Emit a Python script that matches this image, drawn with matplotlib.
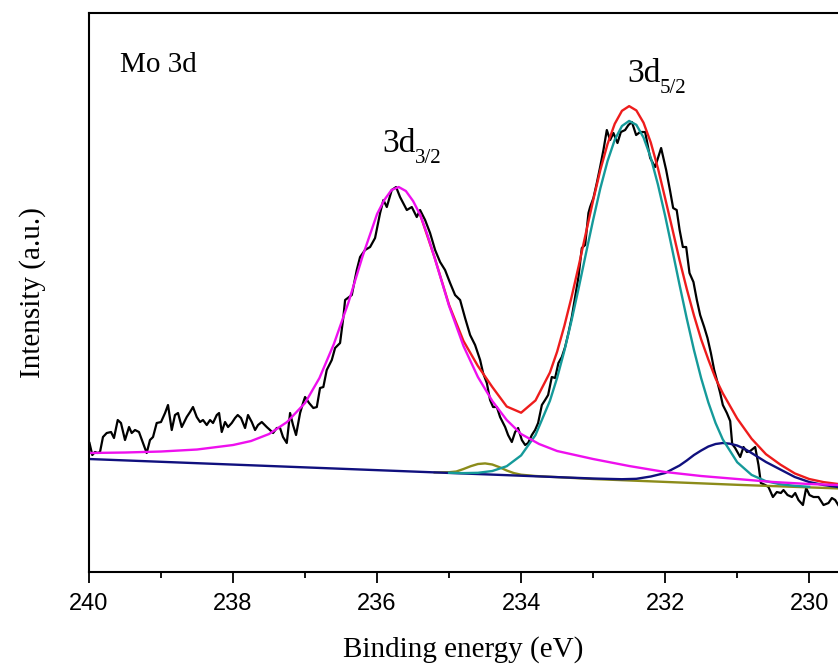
import matplotlib
matplotlib.use("Agg")
import matplotlib.pyplot as plt

# raw Mo 3d spectrum (binding energy eV, intensity a.u.)
raw_e = [239.993, 239.954, 239.917, 239.879, 239.847, 239.806, 239.754, 239.694, 239.653, 239.601,
         239.556, 239.5, 239.444, 239.407, 239.361, 239.306, 239.25, 239.199, 239.153, 239.111,
         239.06, 239.0, 238.944, 238.903, 238.851, 238.806, 238.764, 238.712, 238.643, 238.597,
         238.556, 238.504, 238.458, 238.417, 238.365, 238.319, 238.278, 238.226, 238.194, 238.157,
         238.111, 238.069, 238.018, 237.972, 237.935, 237.889, 237.833, 237.792, 237.74, 237.694,
         237.653, 237.601, 237.532, 237.486, 237.444, 237.393, 237.347, 237.306, 237.254, 237.208,
         237.167, 237.125, 237.069, 237.028, 237.0, 236.944, 236.885, 236.837, 236.792, 236.746,
         236.699, 236.629, 236.583, 236.514, 236.468, 236.444, 236.351, 236.282, 236.236, 236.167,
         236.097, 236.028, 235.958, 235.912, 235.865, 235.796, 235.736, 235.681, 235.587, 235.518,
         235.449, 235.403, 235.333, 235.264, 235.194, 235.125, 235.056, 234.986, 234.917, 234.847,
         234.778, 234.708, 234.639, 234.569, 234.528, 234.476, 234.431, 234.389, 234.337, 234.292,
         234.222, 234.181, 234.129, 234.083, 234.042, 233.99, 233.944, 233.903, 233.851, 233.806,
         233.764, 233.712, 233.667, 233.625, 233.574, 233.528, 233.482, 233.435, 233.389, 233.343,
         233.296, 233.25, 233.204, 233.157, 233.111, 233.065, 233.042, 232.996, 232.949, 232.903,
         232.857, 232.81, 232.764, 232.718, 232.662, 232.615, 232.556, 232.51, 232.462, 232.403,
         232.347, 232.278, 232.208, 232.139, 232.056, 231.986, 231.931, 231.889, 231.84, 231.799,
         231.754, 231.708, 231.662, 231.607, 231.56, 231.514, 231.458, 231.412, 231.365, 231.319,
         231.282, 231.236, 231.199, 231.143, 231.097, 231.069, 231.028, 230.958, 230.912, 230.865,
         230.819, 230.75, 230.704, 230.671, 230.611, 230.565, 230.504, 230.449, 230.393, 230.357,
         230.301, 230.24, 230.194, 230.149, 230.087, 230.042, 229.996, 229.94, 229.871, 229.801,
         229.732, 229.685, 229.639, 229.597]
raw_i = [129, 117, 120, 119, 120, 135, 139, 140, 134, 152,
         149, 132, 145, 139, 142, 140, 129, 119, 132, 135,
         149, 150, 159, 167, 142, 157, 159, 145, 155, 160,
         165, 155, 150, 152, 147, 152, 149, 157, 159, 140,
         150, 145, 149, 154, 157, 154, 144, 157, 150, 142,
         147, 150, 145, 142, 139, 144, 144, 135, 129, 159,
         147, 137, 159, 169, 175, 169, 164, 165, 184, 185,
         202, 212, 224, 229, 255, 272, 277, 302, 315, 322,
         325, 334, 359, 372, 365, 382, 385, 375, 362, 365,
         355, 362, 352, 339, 322, 310, 302, 289, 277, 272,
         254, 237, 227, 212, 199, 189, 172, 165, 165, 155,
         145, 137, 130, 140, 144, 132, 127, 129, 137, 142,
         149, 167, 172, 177, 195, 194, 209, 215, 225, 239,
         255, 275, 295, 324, 327, 359, 365, 374, 389, 405,
         422, 442, 432, 439, 429, 440, 442, 447, 450, 437,
         440, 440, 414, 405, 424, 402, 381, 364, 362, 342,
         325, 325, 299, 290, 272, 257, 245, 234, 219, 202,
         192, 179, 167, 159, 151, 128, 124, 115, 125, 120,
         121, 125, 107, 89, 87, 85, 75, 80, 79, 82,
         77, 75, 79, 72, 67, 84, 77, 75, 75, 67,
         69, 74, 72, 67]

# fitted components
d32_e = [240.0, 239.5, 239.0, 238.5, 238.0, 237.75, 237.5, 237.25, 237.0, 236.8,
         236.6, 236.4, 236.2, 236.0, 235.9, 235.8, 235.7, 235.6, 235.5, 235.4,
         235.3, 235.2, 235.0, 234.8, 234.6, 234.4, 234.2, 234.0, 233.75, 233.5,
         233.0, 232.5, 232.0, 231.5, 231.0, 230.5, 230.0, 229.6]
d32_i = [119, 119.5, 120.5, 122.5, 127, 131, 138, 150, 169, 194,
         228, 269, 316, 358, 372, 382, 385, 381, 371, 357,
         337, 314, 266, 226, 195, 171, 152, 138, 128, 121,
         113, 106, 100, 96, 93, 90, 88, 87]

d52_e = [235.0, 234.8, 234.6, 234.4, 234.2, 234.0, 233.8, 233.6, 233.5, 233.4,
         233.3, 233.2, 233.1, 233.0, 232.9, 232.8, 232.7, 232.6, 232.5, 232.4,
         232.3, 232.2, 232.1, 232.0, 231.9, 231.8, 231.7, 231.6, 231.5, 231.4,
         231.3, 231.2, 231.0, 230.8, 230.6, 230.4, 230.2, 230.0]
d52_i = [99.2, 98.9, 99.2, 101.0, 105.8, 116.6, 137.0, 171.2, 194.2, 221.1,
         251.4, 284.2, 318.5, 352.1, 383.7, 410.9, 432.2, 446.0, 451.1, 447.2,
         434.5, 414.5, 387.4, 356.1, 322.0, 287.1, 253.5, 222.0, 193.8, 169.5,
         149.0, 132.6, 109.8, 97.1, 90.8, 87.7, 86.2, 85.2]

low_e = [240.0, 233.0, 232.6, 232.4, 232.2, 232.0, 231.8, 231.7, 231.6, 231.5,
         231.4, 231.3, 231.2, 231.1, 231.0, 230.9, 230.8, 230.7, 230.6, 230.4,
         230.2, 230.0, 229.8, 229.6]
low_i = [113, 93.5, 92.8, 93.2, 95.5, 99, 106.5, 111.5, 117, 121.5,
         125.5, 128, 129, 128.3, 126.5, 123.3, 119, 114.5, 110, 102.5,
         95, 90, 87, 85]

sat_e = [235.2, 235.0, 234.9, 234.8, 234.7, 234.6, 234.5, 234.4, 234.3, 234.2,
         234.1, 234.0, 233.8, 233.0, 231.0, 229.6]
sat_i = [99.6, 99.8, 100.5, 103.0, 105.8, 108.0, 108.6, 107.5, 104.8, 101.5,
         98.9, 97.3, 96.0, 93.0, 87.2, 83.6]

env_e = [235.4, 235.2, 235.0, 234.8, 234.6, 234.4, 234.2, 234.0, 233.8, 233.6,
         233.5, 233.4, 233.3, 233.2, 233.1, 233.0, 232.9, 232.8, 232.7, 232.6,
         232.5, 232.4, 232.3, 232.2, 232.1, 232.0, 231.9, 231.8, 231.7, 231.6,
         231.5, 231.4, 231.3, 231.2, 231.0, 230.8, 230.6, 230.4, 230.2, 230.0,
         229.8, 229.6]
env_i = [357, 314.2, 267, 231, 206, 185, 165.5, 159.3, 171.6, 199.5,
         220.3, 246, 274.8, 306.2, 339.2, 371.6, 402.0, 428, 448.2, 461.2,
         465.9, 461.6, 449.3, 429.6, 403.7, 373.7, 343.1, 311.8, 283.1, 256.6,
         232.6, 212.4, 193.6, 178.8, 153.5, 133.3, 117.8, 107.4, 98.6, 93.0,
         89.9, 88]

x_ticks = [240, 238, 236, 234, 232, 230]
x_minor = [239, 237, 235, 233, 231]

serif = "Liberation Serif"
sans = "Liberation Sans"

fig = plt.figure(figsize=(8.38, 6.68), dpi=100)
ax = fig.add_axes([0.1062, 0.1437, 0.8938, 0.8368])

ax.plot(raw_e, raw_i, color="black", lw=1.6)
ax.plot(sat_e, sat_i, color="#8c8c1a", lw=1.7)
ax.plot(low_e, low_i, color="#10107e", lw=1.7)
ax.plot(d52_e, d52_i, color="#159a9a", lw=1.7)
ax.plot(env_e, env_i, color="#ee1c1c", lw=1.7)
ax.plot(d32_e, d32_i, color="#ee10ee", lw=1.7)

ax.set_xlim(240, 229.6)
ax.set_ylim(0, 559)
ax.set_xticks(x_ticks)
ax.set_xticks(x_minor, minor=True)
ax.set_yticks([])
ax.tick_params(axis="x", which="major", direction="out", length=8, width=1.3,
               pad=7, labelsize=17)
ax.tick_params(axis="x", which="minor", direction="out", length=4.5, width=1.3)
for lab in ax.get_xticklabels():
    lab.set_fontfamily(sans)

ax.spines["right"].set_visible(False)
for s in ["left", "top", "bottom"]:
    ax.spines[s].set_linewidth(1.5)

ax.set_xlabel("Binding energy (eV)", family=serif, fontsize=21, labelpad=15)
ax.set_ylabel("Intensity (a.u.)", family=serif, fontsize=21, labelpad=31)

ax.text(239.57, 500, "Mo 3d", family=serif, fontsize=21, va="baseline", ha="left")
# peak labels: main text plus lowered subscript
ax.text(235.93, 420, "3d", family=serif, fontsize=24, va="baseline", ha="left")
ax.text(235.47, 409, "3/2", family=serif, fontsize=15, va="baseline", ha="left")
ax.text(232.53, 490, "3d", family=serif, fontsize=24, va="baseline", ha="left")
ax.text(232.08, 479, "5/2", family=serif, fontsize=15, va="baseline", ha="left")

fig.savefig("out.png", dpi=100)
